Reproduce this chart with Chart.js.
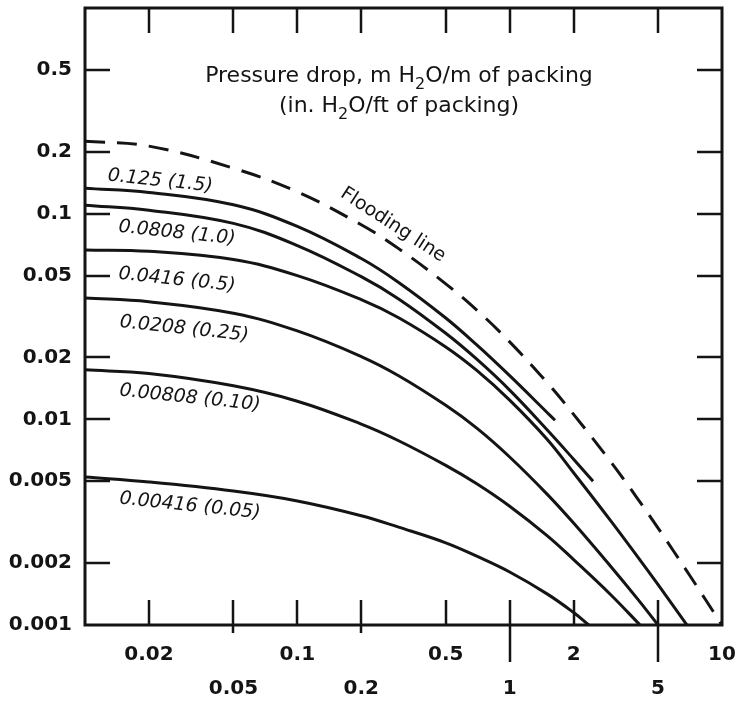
<!DOCTYPE html>
<html>
<head>
<meta charset="utf-8">
<script src="https://cdn.jsdelivr.net/npm/chart.js@4.4.0/dist/chart.umd.min.js"></script>
<style>
  html, body { margin: 0; padding: 0; background: #fff; }
  #wrap { width: 738px; height: 703px; }
</style>
</head>
<body>
<div id="wrap"><canvas id="chart" width="738" height="703"></canvas></div>
<script>
// values (flow parameter on x, capacity parameter on y)
const floodX = [0.01, 0.02, 0.05, 0.1, 0.2, 0.3, 0.5, 0.7, 1, 1.5, 2, 3, 4, 5, 7, 10];
const floodY = [0.225, 0.213, 0.1663, 0.1276, 0.0883, 0.0676, 0.0456, 0.034, 0.0238, 0.0151, 0.01057, 0.0062, 0.00412, 0.00296, 0.00176, 0.001];

const c125X = [0.01, 0.02, 0.05, 0.1, 0.2, 0.3, 0.5, 0.7, 1, 1.5, 1.635];
const c125Y = [0.133, 0.1268, 0.1104, 0.0867, 0.0605, 0.0463, 0.0311, 0.023, 0.0163, 0.0108, 0.0099];

const c0808X = [0.01, 0.02, 0.05, 0.1, 0.2, 0.3, 0.5, 0.7, 1, 1.5, 2, 2.47];
const c0808Y = [0.11, 0.104, 0.0897, 0.07, 0.0494, 0.0385, 0.0262, 0.0196, 0.01387, 0.0089, 0.0064, 0.005];

const c0416X = [0.01, 0.02, 0.05, 0.1, 0.2, 0.3, 0.5, 0.7, 1, 1.5, 2, 3, 4, 5, 6.84];
const c0416Y = [0.0666, 0.0656, 0.0598, 0.05, 0.0382, 0.0312, 0.0225, 0.0173, 0.0124, 0.008, 0.0055, 0.0032, 0.00215, 0.00157, 0.001];

const c0208X = [0.01, 0.02, 0.05, 0.1, 0.2, 0.3, 0.5, 0.7, 1, 1.5, 2, 3, 4, 5];
const c0208Y = [0.0389, 0.0373, 0.0328, 0.0269, 0.0202, 0.0163, 0.0117, 0.00906, 0.00656, 0.00433, 0.00313, 0.00192, 0.00134, 0.001];

const c00808X = [0.01, 0.02, 0.05, 0.1, 0.2, 0.3, 0.5, 0.7, 1, 1.5, 2, 3, 4.11];
const c00808Y = [0.0174, 0.0167, 0.01455, 0.01225, 0.00948, 0.00787, 0.00597, 0.00486, 0.00378, 0.00272, 0.00208, 0.0014, 0.001];

const c00416X = [0.01, 0.02, 0.05, 0.1, 0.2, 0.3, 0.5, 0.7, 1, 1.5, 2, 2.36];
const c00416Y = [0.00524, 0.00496, 0.00448, 0.00401, 0.0034, 0.00299, 0.00251, 0.00216, 0.00181, 0.001417, 0.00115, 0.001];

const curveNames = ["0.125 (1.5)", "0.0808 (1.0)", "0.0416 (0.5)", "0.0208 (0.25)", "0.00808 (0.10)", "0.00416 (0.05)"];

const xTicks = [0.02, 0.05, 0.1, 0.2, 0.5, 1, 2, 5, 10];
const xTopRow = ["0.02", "0.1", "0.5", "2", "10"];
const xLowRow = ["0.05", "0.2", "1", "5"];
const yTicks = [0.001, 0.002, 0.005, 0.01, 0.02, 0.05, 0.1, 0.2, 0.5];

const ink = "#141414";

// where the curve names sit (data space), text centre
const labelSpots = [
  [0.0226, 0.144], [0.0271, 0.0805], [0.0271, 0.0476],
  [0.0293, 0.0275], [0.0312, 0.0127], [0.0312, 0.00379]
];

function pts(xs, ys) {
  return xs.map((v, i) => ({ x: v, y: ys[i] }));
}

const curves = [
  [c125X, c125Y], [c0808X, c0808Y], [c0416X, c0416Y],
  [c0208X, c0208Y], [c00808X, c00808Y], [c00416X, c00416Y]
];

const datasets = curves.map((c, i) => ({
  label: curveNames[i],
  data: pts(c[0], c[1]),
  borderColor: ink,
  borderWidth: 3,
  pointRadius: 0,
  fill: false,
  tension: 0.4
}));
datasets.push({
  label: "Flooding line",
  data: pts(floodX, floodY),
  borderColor: ink,
  borderWidth: 3,
  borderDash: [20, 12],
  pointRadius: 0,
  fill: false,
  tension: 0.4
});

// text with a subscript run, centred on cx
function subText(ctx, parts, cx, baseY, size) {
  const big = size + "px 'DejaVu Sans'";
  const small = Math.round(size * 0.72) + "px 'DejaVu Sans'";
  let w = 0;
  parts.forEach(p => { ctx.font = p[1] ? small : big; w += ctx.measureText(p[0]).width; });
  let px = cx - w / 2;
  ctx.textAlign = "left";
  ctx.textBaseline = "alphabetic";
  parts.forEach(p => {
    ctx.font = p[1] ? small : big;
    ctx.fillText(p[0], px, p[1] ? baseY + size * 0.3 : baseY);
    px += ctx.measureText(p[0]).width;
  });
}

const dropBelow = { 0.05: 8, 0.2: 8, 1: 37, 5: 37 };

const decor = {
  id: "decor",
  afterDatasetsDraw(chart) {
    const { ctx, chartArea: a, scales } = chart;
    const sx = scales.x, sy = scales.y;
    ctx.save();
    ctx.strokeStyle = ink;
    ctx.fillStyle = ink;
    ctx.lineWidth = 3;
    ctx.strokeRect(a.left, a.top, a.right - a.left, a.bottom - a.top);

    ctx.lineWidth = 2.5;
    ctx.beginPath();
    xTicks.slice(0, -1).forEach(v => {
      const px = Math.round(sx.getPixelForValue(v));
      ctx.moveTo(px, a.top);
      ctx.lineTo(px, a.top + 25);
      ctx.moveTo(px, a.bottom - 25);
      ctx.lineTo(px, a.bottom + (dropBelow[v] || 0));
    });
    yTicks.slice(1).forEach(v => {
      const py = Math.round(sy.getPixelForValue(v));
      ctx.moveTo(a.left, py);
      ctx.lineTo(a.left + 25, py);
      ctx.moveTo(a.right, py);
      ctx.lineTo(a.right - 25, py);
    });
    ctx.stroke();

    // heading inside the plot
    const cx = a.left + 314;
    subText(ctx, [["Pressure drop, m H", false], ["2", true], ["O/m of packing", false]], cx, a.top + 74, 22);
    subText(ctx, [["(in. H", false], ["2", true], ["O/ft of packing)", false]], cx, a.top + 104, 22);

    // curve names
    ctx.font = "italic 19px 'DejaVu Sans'";
    ctx.textAlign = "center";
    ctx.textBaseline = "middle";
    labelSpots.forEach((s, i) => {
      ctx.save();
      ctx.translate(sx.getPixelForValue(s[0]), sy.getPixelForValue(s[1]));
      ctx.rotate(6 * Math.PI / 180);
      ctx.fillText(curveNames[i], 0, 0);
      ctx.restore();
    });

    ctx.save();
    ctx.font = "19px 'DejaVu Sans'";
    ctx.translate(sx.getPixelForValue(0.282), sy.getPixelForValue(0.0881));
    ctx.rotate(33 * Math.PI / 180);
    ctx.fillText("Flooding line", 0, 0);
    ctx.restore();

    ctx.restore();
  }
};

new Chart(document.getElementById("chart"), {
  type: "line",
  data: { datasets },
  plugins: [decor],
  options: {
    responsive: false,
    devicePixelRatio: 1,
    animation: false,
    layout: { padding: { left: 0, right: 16, top: 8, bottom: 0 } },
    plugins: { legend: { display: false }, tooltip: { enabled: false } },
    scales: {
      x: {
        type: "logarithmic",
        min: 0.01,
        max: 10,
        grid: { display: false, drawTicks: false },
        border: { display: false },
        afterBuildTicks: s => { s.ticks = xTicks.map(v => ({ value: v })); },
        afterFit: s => { s.height = 78; s.paddingLeft = 0; s.paddingRight = 0; },
        ticks: {
          autoSkip: false,
          maxRotation: 0,
          padding: 13,
          color: ink,
          font: { family: "DejaVu Sans", size: 20, weight: "bold", lineHeight: 1.7 },
          callback: v => {
            const t = String(v);
            if (xTopRow.includes(t)) return [t, ""];
            if (xLowRow.includes(t)) return ["", t];
            return "";
          }
        }
      },
      y: {
        type: "logarithmic",
        min: 0.001,
        max: 1,
        grid: { display: false, drawTicks: false },
        border: { display: false },
        afterBuildTicks: s => { s.ticks = yTicks.map(v => ({ value: v })); },
        afterFit: s => { s.width = 85; s.paddingTop = 0; s.paddingBottom = 0; },
        ticks: {
          autoSkip: false,
          padding: 13,
          color: ink,
          font: { family: "DejaVu Sans", size: 20, weight: "bold" },
          callback: v => String(v)
        }
      }
    }
  }
});
</script>
</body>
</html>
